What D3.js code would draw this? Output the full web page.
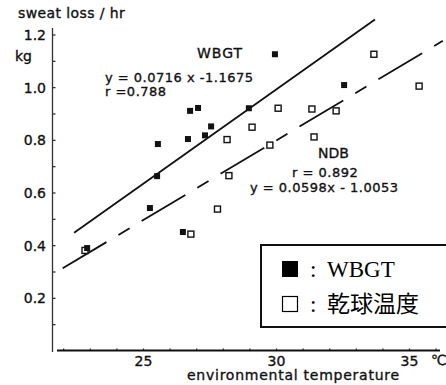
<!DOCTYPE html>
<html><head><meta charset="utf-8">
<script src="https://cdn.jsdelivr.net/npm/d3@7/dist/d3.min.js"></script>
<style>
html,body{margin:0;padding:0;background:#fff;}
svg{display:block;}
.lbl{font-family:"DejaVu Sans",sans-serif;font-size:14px;fill:#111;stroke:#111;stroke-width:0.35px;}
.ann{font-size:13px;letter-spacing:0.5px;}
</style></head>
<body>
<svg id="c" width="446" height="385"></svg>
<script>
// ---- data ----
const wbgtTemp = [22.9, 25.26, 25.53, 25.56, 26.5, 26.69, 26.77, 27.07, 27.33, 27.56, 28.98, 29.96, 32.56];
const wbgtLoss = [0.389, 0.541, 0.662, 0.784, 0.45, 0.803, 0.91, 0.921, 0.817, 0.851, 0.92, 1.125, 1.008];
const dryTemp = [22.82, 26.8, 27.8, 28.23, 28.16, 29.1, 29.77, 30.08, 31.35, 31.43, 32.26, 33.68, 35.38];
const dryLoss = [0.38, 0.442, 0.537, 0.664, 0.801, 0.848, 0.78, 0.92, 0.917, 0.811, 0.91, 1.125, 1.004];
const wbgtFitTemp = [22.41, 33.72];
const wbgtFitLoss = [0.447, 1.257];
const ndbFitTemp = [21.98, 36.27];
const ndbFitLoss = [0.312, 1.176];
const xTickValues = [25, 30, 35];
const xMinorTicks = [22, 23, 24, 25, 26, 27, 28, 29, 30, 31, 32, 33, 34, 35, 36];
const yTickValues = [0.2, 0.4, 0.6, 0.8, 1.0, 1.2];
const yTickLabels = ["0.2", "0.4", "0.6", "0.8", "1.0", "1.2"];
const yMinorTicks = [0.1, 0.2, 0.3, 0.4, 0.5, 0.6, 0.7, 0.8, 0.9, 1.0, 1.1, 1.2];
const legendLabels = ["WBGT", "乾球温度"];

const svg = d3.select("#c");
const x = d3.scaleLinear().domain([25, 35]).range([143, 409]);
const y = d3.scaleLinear().domain([0, 1.2]).range([350.5, 34.5]);

// y axis line + inward ticks
const yAx = svg.append("g").attr("transform", "translate(52.5,0)")
  .call(d3.axisRight(y).tickValues(yMinorTicks).tickSize(3).tickFormat(""));
yAx.select(".domain").remove();
yAx.selectAll(".tick line").attr("stroke", "#222").attr("stroke-width", 1.2);
svg.append("line").attr("x1", 52.5).attr("x2", 52.5).attr("y1", 28).attr("y2", 352)
  .attr("stroke", "#333").attr("stroke-width", 1.3);
// y labels
const yLab = svg.append("g").attr("transform", "translate(46,0)")
  .call(d3.axisLeft(y).tickValues(yTickValues).tickSize(0)
    .tickFormat((d, i) => yTickLabels[i]));
yLab.select(".domain").remove();
yLab.selectAll("text").attr("class", "lbl").attr("x", 0).attr("dy", "0.36em")
  .attr("font-size", null).attr("font-family", null).attr("fill", null);

// x axis line + ticks
const xAx = svg.append("g").attr("transform", "translate(0,350.5)")
  .call(d3.axisTop(x).tickValues(xMinorTicks).tickSize(2).tickFormat(""));
xAx.select(".domain").remove();
xAx.selectAll(".tick line").attr("stroke", "#222").attr("stroke-width", 1.2);
svg.append("line").attr("x1", 57).attr("x2", 440).attr("y1", 350.5).attr("y2", 350.5)
  .attr("stroke", "#111").attr("stroke-width", 2.2);
const xLab = svg.append("g").attr("transform", "translate(0,354)")
  .call(d3.axisBottom(x).tickValues(xTickValues).tickSize(0).tickFormat(d3.format("d")));
xLab.select(".domain").remove();
xLab.selectAll("text").attr("class", "lbl").attr("y", 11.5).attr("dy", null)
  .attr("font-size", null).attr("font-family", null).attr("fill", null);

// titles / labels
svg.append("text").attr("class", "lbl").attr("x", 18).attr("y", 18).attr("letter-spacing", 0.4).text("sweat loss / hr");
svg.append("text").attr("class", "lbl").attr("x", 15).attr("y", 61).text("kg");
svg.append("text").attr("class", "lbl").attr("x", 431).attr("y", 365).text("℃");
svg.append("text").attr("class", "lbl").attr("x", 187).attr("y", 380)
  .attr("font-size", 13).attr("letter-spacing", 0.75).text("environmental temperature");

// regression lines
const line = d3.line().x(d => x(d[0])).y(d => y(d[1]));
svg.append("path").datum(d3.zip(wbgtFitTemp, wbgtFitLoss)).attr("d", line)
  .attr("fill", "none").attr("stroke", "#111").attr("stroke-width", 1.8);
svg.append("path").datum(d3.zip(ndbFitTemp, ndbFitLoss)).attr("d", line)
  .attr("fill", "none").attr("stroke", "#111").attr("stroke-width", 1.8)
  .attr("stroke-dasharray", "51,14,13,14");

// points
const s = 6;
svg.append("g").selectAll("rect").data(d3.zip(dryTemp, dryLoss)).join("rect")
  .attr("x", d => x(d[0]) - s / 2).attr("y", d => y(d[1]) - s / 2)
  .attr("width", s).attr("height", s)
  .attr("fill", "#fff").attr("stroke", "#111").attr("stroke-width", 1.4);
svg.append("g").selectAll("rect").data(d3.zip(wbgtTemp, wbgtLoss)).join("rect")
  .attr("x", d => x(d[0]) - s / 2).attr("y", d => y(d[1]) - s / 2)
  .attr("width", s).attr("height", s).attr("fill", "#111");

// annotations
svg.append("text").attr("class", "lbl").attr("x", 197).attr("y", 58).attr("letter-spacing", 1).text("WBGT");
svg.append("text").attr("class", "lbl ann").attr("x", 105).attr("y", 82).text("y = 0.0716 x -1.1675");
svg.append("text").attr("class", "lbl ann").attr("x", 105).attr("y", 96).text("r =0.788");
svg.append("text").attr("class", "lbl").attr("x", 318).attr("y", 158).text("NDB");
svg.append("text").attr("class", "lbl ann").attr("x", 292).attr("y", 177).text("r = 0.892");
svg.append("text").attr("class", "lbl ann").attr("x", 250).attr("y", 192).text("y = 0.0598x - 1.0053");

// legend
const lg = svg.append("g");
lg.append("rect").attr("x", 261).attr("y", 245).attr("width", 190).attr("height", 82)
  .attr("fill", "#fff").attr("stroke", "#111").attr("stroke-width", 2);
const rows = lg.selectAll("g.row").data(legendLabels).join("g").attr("class", "row")
  .attr("transform", (d, i) => `translate(0,${i * 35})`);
rows.append("rect").attr("x", (d, i) => i ? 282.5 : 282).attr("y", (d, i) => i ? 261.5 : 261)
  .attr("width", (d, i) => i ? 15 : 16).attr("height", (d, i) => i ? 15 : 16)
  .attr("fill", (d, i) => i ? "#fff" : "#000").attr("stroke", "#000")
  .attr("stroke-width", (d, i) => i ? 1.2 : 0);
rows.append("text").attr("x", 310).attr("y", 277)
  .attr("font-family", "'Liberation Serif','Times New Roman',serif").attr("font-size", 23)
  .attr("fill", "#000").text(":");
rows.append("text").attr("x", 327).attr("y", 277)
  .attr("font-family", "'Liberation Serif','Noto Sans CJK JP',serif").attr("font-size", 23)
  .attr("fill", "#000").text(d => d);
</script>
</body></html>
